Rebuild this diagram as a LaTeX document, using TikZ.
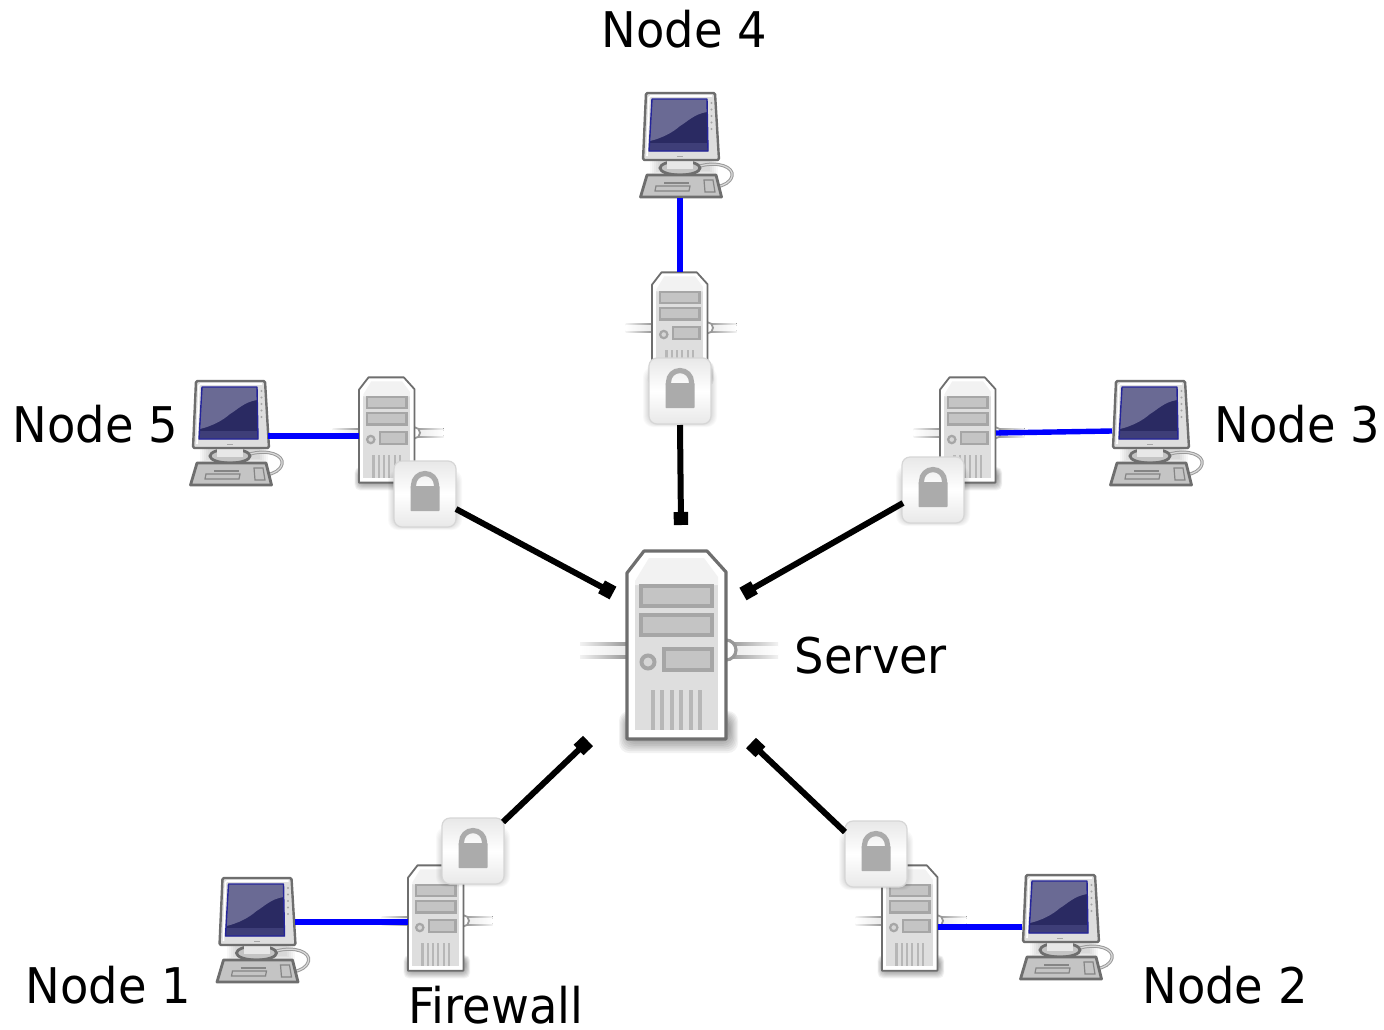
\documentclass[tikz,border=0pt]{standalone}
\usepackage{fontspec}
\setmainfont{DejaVu Sans}
\usetikzlibrary{calc,arrows.meta}
\definecolor{edgegrey}{HTML}{6E6E6E}
\definecolor{slotfill}{HTML}{C4C4C4}
\definecolor{slotedge}{HTML}{A6A6A6}
\definecolor{bodyfill}{HTML}{DEDEDE}
\definecolor{cableedge}{HTML}{989898}
\definecolor{lockgrey}{HTML}{ABABAB}
\definecolor{screenedge}{HTML}{24249A}
\definecolor{screendark}{HTML}{2A2A62}
\definecolor{screenmid}{HTML}{3E3E78}
\definecolor{screenlight}{HTML}{6A6A94}
\newcommand{\ServerIcon}[3]{%
 \begin{scope}[shift={(#1,#2)},scale=#3]
  \foreach \k in {0,...,7}{
    \fill[black,opacity=.05,rounded corners=#3*.5cm] ({-58+\k*1.2},{66+\k}) rectangle ({61-\k*1.2},{108-\k*1.8});
  }
  \fill[left color=black!5,right color=cableedge] (-97,-3) rectangle (-50,1);
  \fill[left color=black!5,right color=cableedge] (-97,9) rectangle (-50,13);
  \fill[left color=cableedge,right color=black!5] (52,-3) rectangle (101,1);
  \fill[left color=cableedge,right color=black!5] (52,9) rectangle (101,13);
  \fill[left color=white,right color=black!8] (-97,1) rectangle (-50,9);
  \fill[left color=black!8,right color=white] (52,1) rectangle (101,9);
  \draw[cableedge,fill=white,line width=#3*.16cm] (49,5) circle[radius=10];
  \fill[white] (-50,-72) -- (-33,-94) -- (30,-94) -- (49,-73) -- (49,94) -- (-50,94) -- cycle;
  \fill[bodyfill] (-42,-60) rectangle (41,85);
  \fill[black!5] (-42,-64) -- (-28,-87) -- (27,-87) -- (41,-68) -- (41,-60) -- (-42,-60) -- cycle;
  \draw[edgegrey,line width=#3*.16cm,line join=round] (-50,-72) -- (-33,-94) -- (30,-94) -- (49,-73) -- (49,94) -- (-50,94) -- cycle;
  \foreach \ya/\yb/\xa in {-59/-39/-36,-30/-10/-36,4/25/-13}{
    \draw[slotedge,fill=slotfill,line width=#3*.2cm] (\xa,\ya) rectangle (35,\yb);
  }
  \draw[slotedge,fill=slotfill!70!white,line width=#3*.2cm] (-29,17) circle[radius=6.5];
  \foreach \k in {0,...,5}{
    \draw[slotedge!70!bodyfill,line width=#3*.2cm] ({-24+9.4*\k},45) -- ({-24+9.4*\k},85);
  }
 \end{scope}}
\newcommand{\MonitorIcon}[2]{%
 \begin{scope}[shift={(#1,#2)}]
  \foreach \k in {0,...,4}{
    \fill[black,opacity=.03] ({-30+\k*2},{10+\k}) rectangle ({38-\k*2},{28-\k});
  }
  \draw[edgegrey!70!white,line width=.16cm] (20,19) .. controls (38,14) and (54,20) .. (52,29) .. controls (50,36) and (44,38) .. (37,40);
  \draw[white!85!black,line width=.06cm] (20,19) .. controls (38,14) and (54,20) .. (52,29) .. controls (50,36) and (44,38) .. (37,40);
  \draw[edgegrey,fill=slotfill,line width=.14cm] (0,21) ellipse[x radius=20,y radius=7];
  \fill[slotfill!40!white] (-13,14) rectangle (13,22);
  \draw[edgegrey,fill=slotfill,line width=.14cm,line join=round] (-33,28) -- (36,28) -- (41.5,50) -- (-39.5,50) -- cycle;
  \draw[slotedge!80!black,line width=.06cm] (-24,39) -- (10,39) -- (9,44) -- (-25,44) -- cycle;
  \draw[slotedge!80!black,line width=.06cm] (-16,36) -- (9,36);
  \draw[slotedge!80!black,line width=.06cm] (24,33) -- (33,33) -- (35,45) -- (25,45) -- cycle;
  \draw[edgegrey,fill=bodyfill,line width=.12cm,line join=round,rounded corners=2] (-34,-54) -- (35,-54) -- (39,13) -- (-37,13) -- cycle;
  \draw[white,line width=.08cm,rounded corners=2] (-33,9) -- (-31,-51) -- (32,-51);
  \fill[screendark] (-28,-48) -- (27,-48) -- (28,4) -- (-31,4) -- cycle;
  \fill[screenmid] (-30.5,-4) -- (28,-4) -- (28,4) -- (-31,4) -- cycle;
  \fill[screenlight] (-28,-48) -- (27,-48) -- (27,-35) .. controls (14,-33) and (7,-25) .. (0,-21) .. controls (-8,-14) and (-18,-9) .. (-30,-6) -- cycle;
  \draw[screenedge,line width=.07cm,line join=round] (-28,-48) -- (27,-48) -- (28,4) -- (-31,4) -- cycle;
  \foreach \k in {0,...,4} \fill[slotedge] (31.5,{-44+6.5*\k}) circle[radius=1.1];
  \fill[slotedge] (-3,8.5) rectangle (3,10);
 \end{scope}}
\newcommand{\LockShade}[2]{%
 \foreach \k in {0,...,5}{
   \fill[black,opacity=.022,rounded corners=.5cm] ({#1-31-6+\k},{#2-24+\k}) rectangle ({#1+31+6-\k},{#2+36-\k*.6});
 }}
\newcommand{\PadLock}[2]{%
 \begin{scope}[shift={(#1,#2)}]
  \draw[lockgrey,line width=.26cm] (-11.5,-6) -- (-11.5,-9) arc[start angle=180,end angle=360,radius=11.5] -- (11.5,-6);
  \fill[lockgrey,rounded corners=1] (-14.5,-8) rectangle (14.5,17);
 \end{scope}}
\tikzset{
  iconbox/.style={inner sep=0pt,outer sep=0pt,minimum width=2.8cm,minimum height=5.35cm},
  bigbox/.style={inner sep=0pt,outer sep=0pt,minimum width=5cm,minimum height=9.4cm},
  monbox/.style={inner sep=0pt,outer sep=0pt,minimum width=3.8cm,minimum height=5.1cm},
  lockbox/.style={draw=black!16,line width=.06cm,rounded corners=.4cm,minimum width=3.1cm,minimum height=3.3cm,inner sep=0pt,outer sep=0pt,
     top color=white!91!black,bottom color=white!91!black,middle color=white},
  label/.style={anchor=base,inner sep=0pt,font=\fontsize{66}{70}\selectfont},
  blueline/.style={blue,line width=.27cm},
  blackline/.style={black,line width=.3cm,-{Square[length=.65cm,width=.72cm]},shorten >=0pt},
}
\newcommand{\tallfont}[1]{\scalebox{1}[1.06]{#1}}
\begin{document}
\begin{tikzpicture}[x=.05cm,y=-.05cm]
\useasboundingbox (0,0) rectangle (1384,1030);
\fill[white] (0,0) rectangle (1384,1030);
% server and firewalls
\node[bigbox] (srv) at (677,645) {};
\node[iconbox] (fw4) at (680,325) {};
\node[iconbox] (fw5) at (387,430) {};
\node[iconbox] (fw3) at (968,430) {};
\node[iconbox] (fw1) at (436,918) {};
\node[iconbox] (fw2) at (910,918) {};
\ServerIcon{677}{645}{1}
\ServerIcon{680}{325}{.56}
\ServerIcon{387}{430}{.56}
\ServerIcon{968}{430}{.56}
\ServerIcon{436}{918}{.56}
\ServerIcon{910}{918}{.56}
% monitors
\node[monbox] (mon4) at (680,147) {};
\node[monbox] (mon5) at (230,435) {};
\node[monbox] (mon3) at (1150,435) {};
\node[monbox] (mon1) at (256.5,932) {};
\node[monbox] (mon2) at (1060,929) {};
\MonitorIcon{680}{147}
\MonitorIcon{230}{435}
\MonitorIcon{1150}{435}
\MonitorIcon{256.5}{932}
\MonitorIcon{1060}{929}
% blue links
\draw[blueline] (mon4.south) -- (fw4.north);
\draw[blueline] ($(mon5.east)+(0,1)$) -- ($(fw5.west)+(0,6)$);
\draw[blueline] ($(fw3.east)+(0,3)$) -- ($(mon3.west)+(0,-4)$);
\draw[blueline] ($(mon1.east)+(0,-10)$) -- ($(fw1.west)+(0,4)$);
\draw[blueline] ($(fw2.east)+(0,9)$) -- ($(mon2.west)+(0,-2)$);
% locks
\LockShade{680}{391}
\LockShade{425}{494}
\LockShade{933}{490}
\LockShade{473}{851}
\LockShade{876}{854}
\node[lockbox] (lock4) at (680,391) {};
\node[lockbox] (lock5) at (425,494) {};
\node[lockbox] (lock3) at (933,490) {};
\node[lockbox] (lock1) at (473,851) {};
\node[lockbox] (lock2) at (876,854) {};
\PadLock{680}{391}
\PadLock{425}{494}
\PadLock{933}{490}
\PadLock{473}{851}
\PadLock{876}{854}
% black links
\coordinate (end4) at (681,525);
\coordinate (end5) at (613,593);
\coordinate (end3) at (743,594);
\coordinate (end1) at (588,741);
\coordinate (end2) at (751,743);
\draw[blackline] (lock4) ++(0,34) -- (end4);
\draw[blackline] (456,509) -- (end5);
\draw[blackline] (903,503) -- (end3);
\draw[blackline] (503,822) -- (end1);
\draw[blackline] (845,832) -- (end2);
% labels
\node[label] (t4) at (684.5,48) {\tallfont{Node 4}};
\node[label] (t5) at (95.5,442) {\tallfont{Node 5}};
\node[label] (t3) at (1297.5,442) {\tallfont{Node 3}};
\node[label] (ts) at (871,673) {\tallfont{Server}};
\node[label] (t1) at (108.5,1003) {\tallfont{Node 1}};
\node[label] (tf) at (496,1023) {\tallfont{Firewall}};
\node[label] (t2) at (1225,1003) {\tallfont{Node 2}};
\end{tikzpicture}
\end{document}
